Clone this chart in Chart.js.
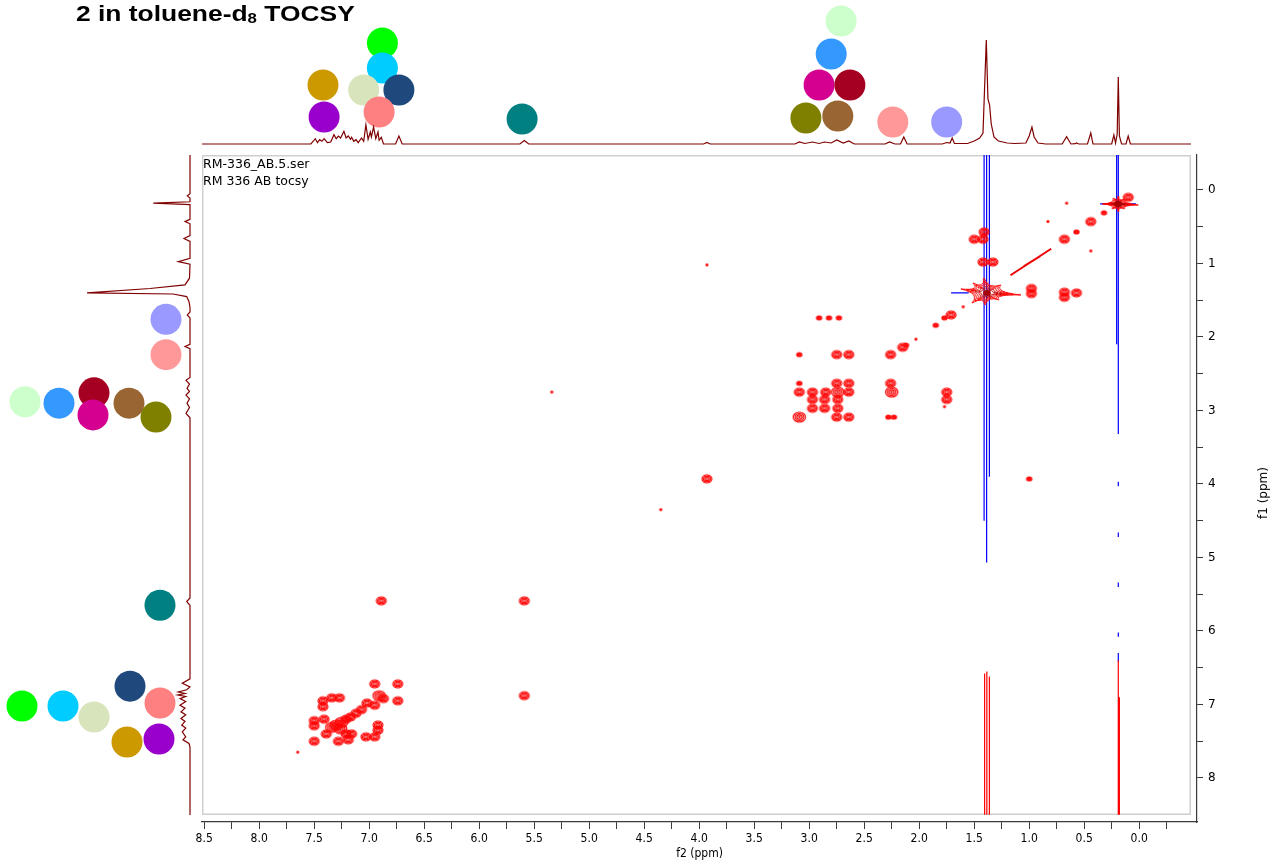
<!DOCTYPE html>
<html>
<head>
<meta charset="utf-8">
<title>2 in toluene-d8 TOCSY</title>
<script src="https://cdn.jsdelivr.net/npm/chart.js@4.4.1/dist/chart.umd.min.js"></script>
<style>
  html, body { margin:0; padding:0; background:#ffffff; }
  #stage { position:relative; width:1273px; height:865px; overflow:hidden; background:#fff; }
  #stage canvas { position:absolute; }
  #mainPlot { left:0; top:0; }
  #topTrace { left:202px; top:0; }
  #sideTrace { left:0; top:155px; }
  .label { position:absolute; white-space:nowrap; color:#000; }
  #heading { left:76px; top:3px; font:bold 22px/22px "Liberation Sans", Arial, sans-serif; transform:scaleX(1.2); transform-origin:0 50%; }
  #heading .sub { font-size:14px; position:relative; top:2px; }
  .info { left:203px; font:12.5px/17px "DejaVu Sans", Verdana, sans-serif; }
  #f1title { left:1263px; top:493px; font:12px/14px "DejaVu Sans", Verdana, sans-serif; transform:translate(-50%,-50%) rotate(-90deg); }
</style>
</head>
<body>
<div id="stage">
  <canvas id="mainPlot" width="1273" height="865"></canvas>
  <canvas id="topTrace" width="989" height="150"></canvas>
  <canvas id="sideTrace" width="200" height="660"></canvas>
  <div id="heading" class="label">2 in toluene-d<span class="sub">8</span> TOCSY</div>
  <div class="label info" style="top:155px">RM-336_AB.5.ser</div>
  <div class="label info" style="top:172px">RM 336 AB tocsy</div>
  <div id="f1title" class="label">f1 (ppm)</div>
</div>
<script>
// ---------- axis ticks (ppm) ----------
const f2Ticks = [8.5, 8.25, 8, 7.75, 7.5, 7.25, 7, 6.75, 6.5, 6.25, 6, 5.75, 5.5, 5.25, 5, 4.75, 4.5, 4.25,
                 4, 3.75, 3.5, 3.25, 3, 2.75, 2.5, 2.25, 2, 1.75, 1.5, 1.25, 1, 0.75, 0.5, 0.25, 0, -0.25];
const f1Ticks = [0, 0.5, 1, 1.5, 2, 2.5, 3, 3.5, 4, 4.5, 5, 5.5, 6, 6.5, 7, 7.5, 8];

// ---------- 1D trace along f2 (top) ----------
const topShift = [8.52, 7.53, 7.49, 7.47, 7.45, 7.43, 7.41, 7.38, 7.35, 7.32, 7.30, 7.28, 7.26, 7.23, 7.21, 7.19,
  7.17, 7.16, 7.14, 7.12, 7.10, 7.07, 7.05, 7.03, 7.01, 6.99, 6.98, 6.96, 6.94, 6.92, 6.91, 6.89, 6.87, 6.76, 6.73, 6.70,
  5.63, 5.59, 5.55, 3.96, 3.93, 3.90,
  3.13, 3.09, 3.04, 2.97, 2.91, 2.86, 2.80, 2.75, 2.69, 2.64, 2.59, 2.31, 2.27, 2.22, 2.17, 2.14, 2.11,
  1.79, 1.75, 1.72, 1.70, 1.68, 1.56, 1.50, 1.45, 1.42, 1.39, 1.375, 1.36, 1.345, 1.32, 1.28, 1.20, 1.13,
  1.03, 1.00, 0.975, 0.955, 0.92, 0.85, 0.70, 0.66, 0.62, 0.58, 0.57, 0.55, 0.47, 0.44, 0.42,
  0.25, 0.23, 0.215, 0.20, 0.19, 0.18, 0.16, 0.12, 0.10, 0.08, -0.471];
const topIntensity = [0, 0, 5.3, 1.3, 4.3, 2.7, 5.3, 1.3, 2, 9.3, 5.3, 8, 6, 12.7, 6, 8,
  4.7, 6.7, 2.7, 4.3, 1.3, 6, 2.7, 19.3, 4.7, 12, 7, 17, 5.3, 12, 3.7, 6.7, 0, 0, 8, 0,
  0, 3.5, 0, 0, 1.5, 0,
  0, 2, 0.5, 2, 0.5, 2, 1, 4, 1, 3, 0, 0, 2, 0, 0, 7, 0,
  0, 1.5, 1, 6, 0.5, 0.5, 3, 6, 11, 104, 45, 39, 20, 7, 3, 1, 0.5,
  1, 8, 17, 7, 1, 0, 0, 7.3, 0, 0.3, 1, 0, 0, 11, 0,
  0, 9, 1, 10, 67, 8, 0, 0, 8, 0, 0];

// ---------- 1D trace along f1 (left) ----------
const sideShift = [-0.476, 0.05, 0.08, 0.11, 0.16, 0.18, 0.20, 0.40, 0.43, 0.46, 0.62, 0.66, 0.70, 0.93, 0.975, 1.01,
  1.20, 1.29, 1.34, 1.40, 1.415, 1.45, 1.52, 1.60, 1.66, 1.70, 1.74, 2.10, 2.13, 2.16,
  2.55, 2.59, 2.64, 2.70, 2.74, 2.79, 2.84, 2.90, 2.96, 3.04, 3.10, 5.55, 5.60, 5.65,
  6.65, 6.71, 6.76, 6.80, 6.83, 6.85, 6.87, 6.89, 6.92, 6.96, 7.01, 7.05, 7.10, 7.14, 7.19, 7.23, 7.28, 7.32,
  7.37, 7.44, 7.48, 7.53, 7.58, 8.503];
const sideIntensity = [0, 0, 2.7, 0, 0, 36.7, 0, 0, 5, 0, 0, 6, 0, 0, 11.7, 0,
  0.5, 5, 40, 103, 17, 3.3, 1, 0, 0, 2.7, 0, 0, 5, 0,
  0, 4, 0.5, 3, 0.5, 4, 0.5, 3, 0.5, 4, 0, 0, 3.3, 0,
  0, 7.7, 0, 3.3, 11.7, 5, 12.3, 4.3, 10, 4.3, 10, 5, 9, 4.3, 9, 5, 8.3, 4.3,
  7.7, 4.3, 7, 1, 0, 0];

// ---------- assignment markers ----------
const markerPalette = {
  lime:'#00ff00', cyan:'#00ccff', beige:'#d8e4bc', navy:'#1f497d', salmon:'#ff8080', gold:'#cc9900',
  purple:'#9900cc', teal:'#008080', mint:'#ccffcc', sky:'#3399ff', magenta:'#d4008f', crimson:'#a50021',
  olive:'#808000', brown:'#996633', pink:'#ff9999', lavender:'#9999ff'
};
const topMarkNames = ['lime','cyan','beige','navy','salmon','gold','purple','teal','mint','sky','magenta','crimson','olive','brown','pink','lavender'];
const topMarkShift = [6.88, 6.88, 7.05, 6.73, 6.91, 7.42, 7.41, 5.61, 2.71, 2.80, 2.91, 2.63, 3.03, 2.74, 2.24, 1.75];
const topMarkStack = [101, 76, 54, 54, 32, 59, 27, 25, 123, 90, 59, 59, 26, 28, 22, 22];
const sideMarkNames = ['lavender','pink','mint','sky','crimson','magenta','brown','olive','teal','navy','salmon','lime','cyan','beige','gold','purple'];
const sideMarkShift = [1.76, 2.24, 2.88, 2.90, 2.76, 3.06, 2.90, 3.09, 5.65, 6.75, 6.98, 7.02, 7.02, 7.17, 7.51, 7.47];
const sideMarkStack = [24, 24, 165, 131, 96, 97, 61, 34, 30, 60, 30, 168, 127, 96, 63, 31];

// ---------- cross peaks: [f2, f1, contour level] ----------
const aliphaticPeaks = [
  [0.10,0.10,3],[0.32,0.31,2],[0.44,0.43,3],[0.83,0.43,1],[0.66,0.18,1],[0.57,0.57,2],[0.68,0.67,3],[0.44,0.83,1],
  [1.41,0.57,3],[1.50,0.67,3],[1.42,0.67,3],[1.42,0.98,3],[1.33,0.98,3],
  [0.98,1.34,3],[0.98,1.41,3],[0.68,1.39,3],[0.68,1.46,3],[0.57,1.40,3],
  [1.60,1.59,1],[1.71,1.70,3],[1.77,1.74,2],[1.85,1.84,2],[2.03,2.03,1],[2.15,2.14,3],[2.12,2.11,2]
];
const midPeaks = [
  [2.91,1.74,2],[2.82,1.74,2],[2.73,1.74,2],
  [3.09,2.24,2],[2.75,2.24,3],[2.64,2.24,3],[2.26,2.24,3],
  [3.09,2.63,2],[2.75,2.63,3],[2.64,2.63,3],[2.26,2.63,3],
  [3.09,2.75,3],[2.97,2.75,3],[2.85,2.75,3],[2.74,2.75,4],[2.64,2.75,3],[2.25,2.75,4],[1.75,2.75,3],
  [2.97,2.85,3],[2.86,2.85,3],[2.74,2.85,3],[1.75,2.85,3],
  [2.97,2.97,3],[2.86,2.97,3],[2.74,2.97,3],[1.77,2.95,1],
  [3.09,3.09,4],[2.75,3.09,3],[2.64,3.09,3],[2.28,3.09,2],[2.23,3.09,2],
  [3.93,1.02,1],[3.93,3.93,3],[1.00,3.93,2],[4.35,4.35,1],[5.34,2.75,1],
  [5.59,5.59,3],[6.89,5.59,3],[5.59,6.88,3]
];
const aromaticPeaks = [
  [6.95,6.72,3],[6.74,6.72,3],[7.34,6.91,3],[7.27,6.91,3],[6.91,6.88,4],[6.87,6.92,3],[6.74,6.95,3],
  [7.42,6.95,3],[7.42,7.03,3],[7.02,6.98,3],[6.95,7.01,3],
  [7.07,7.07,3],[7.12,7.12,3],[7.17,7.17,3],[7.21,7.20,3],[7.25,7.24,4],[7.30,7.28,4],
  [7.50,7.22,3],[7.50,7.29,3],[7.41,7.20,3],[7.34,7.31,4],[7.26,7.33,4],
  [6.92,7.28,3],[6.92,7.35,3],[7.39,7.40,3],[7.21,7.40,3],[7.16,7.40,3],
  [7.03,7.44,3],[6.95,7.44,3],[7.50,7.50,3],[7.28,7.50,3],[7.19,7.48,3],[7.65,7.65,1]
];
// strong diagonal singlets: [f2, f1]
const solventPeaks = [[1.385, 1.40], [0.19, 0.19]];
// diagonal ridges: [f2 start, f1 start, f2 end, f1 end]
const diagonalRidges = [[1.17,1.16,0.80,0.80],[1.05,1.04,0.90,0.90]];
// t1 noise ridges along f1: [f2, f1 start, f1 end]
const negativeRidges = [[1.41,-0.6,4.5],[1.387,-0.6,5.07],[1.362,-0.6,3.9],[0.19,-0.6,3.32],[0.205,-0.6,2.1],
  [0.19,3.97,4.03],[0.19,4.66,4.72],[0.19,5.34,5.40],[0.19,6.02,6.08],[0.19,6.30,6.42]];
const positiveRidges = [[1.405,6.58,8.5],[1.385,6.55,8.5],[1.362,6.62,8.5],[0.19,6.40,8.5],[0.18,6.9,8.5]];
// short negative ridges along f2: [f1, f2 start, f2 end]
const negativeRows = [[0.19,0.355,0.03],[1.40,1.71,1.55]];

// ---------- plot ranges ----------
const F2_LEFT = 8.52, F2_RIGHT_MAIN = -0.5255, F2_RIGHT_TOP = -0.471;
const F1_TOP = -0.476, F1_BOTTOM_MAIN = 8.599, F1_BOTTOM_SIDE = 8.503;

// ---------- contour glyphs ----------
function contourGlyph(level) {
  const radii = {1:[1.6,1.4], 2:[3.2,2.6], 3:[5,4], 4:[6.2,5]};
  const [rx, ry] = radii[level];
  const c = document.createElement('canvas');
  c.width = Math.ceil(rx * 2 + 4); c.height = Math.ceil(ry * 2 + 4);
  const g = c.getContext('2d');
  const cx = c.width / 2, cy = c.height / 2;
  if (level <= 2) {
    g.fillStyle = '#ff1010';
    g.beginPath(); g.ellipse(cx, cy, rx, ry, 0, 0, Math.PI * 2); g.fill();
    return c;
  }
  g.fillStyle = 'rgba(255,60,60,0.15)';
  g.beginPath(); g.ellipse(cx, cy, rx, ry, 0, 0, Math.PI * 2); g.fill();
  g.strokeStyle = '#ff0000'; g.lineWidth = 1.1;
  [1, 0.7, 0.42].forEach(k => { g.beginPath(); g.ellipse(cx, cy, rx * k, ry * k, 0, 0, Math.PI * 2); g.stroke(); });
  g.fillStyle = '#e00000';
  g.beginPath(); g.ellipse(cx, cy, rx * 0.18, ry * 0.18, 0, 0, Math.PI * 2); g.fill();
  return c;
}
function starGlyph(tips) {
  const mx = Math.max(...tips.map(t => Math.abs(t[0]))) + 2;
  const my = Math.max(...tips.map(t => Math.abs(t[1]))) + 2;
  const c = document.createElement('canvas');
  c.width = Math.round(mx * 2); c.height = Math.round(my * 2);
  const g = c.getContext('2d');
  const cx = c.width / 2, cy = c.height / 2;
  const n = tips.length;
  [1, 0.8, 0.62, 0.46, 0.32].forEach((s, li) => {
    const k = 0.3 + 0.5 * (1 - s);
    g.beginPath();
    g.moveTo(cx + tips[0][0] * s, cy + tips[0][1] * s);
    for (let i = 0; i < n; i++) {
      const a = tips[i], b = tips[(i + 1) % n];
      g.quadraticCurveTo(cx + (a[0] + b[0]) / 2 * s * k, cy + (a[1] + b[1]) / 2 * s * k,
                         cx + b[0] * s, cy + b[1] * s);
    }
    g.closePath();
    g.strokeStyle = li < 3 ? '#ff0000' : '#c80000';
    g.lineWidth = 1;
    g.stroke();
  });
  g.fillStyle = '#a80000';
  g.beginPath(); g.ellipse(cx, cy, 4, 3, 0, 0, Math.PI * 2); g.fill();
  return c;
}
const glyphs = {1: contourGlyph(1), 2: contourGlyph(2), 3: contourGlyph(3), 4: contourGlyph(4)};
const starGlyphs = [
  starGlyph([[-26,-4],[-14,-10],[-3,-15],[14,-8],[34,2],[12,7],[-2,12],[-15,10]]),
  starGlyph([[-16,0],[-5,-6],[0,-8],[6,-5],[20,1],[6,5],[0,8],[-6,5]])
];

// ---------- helpers ----------
const allPeaks = aliphaticPeaks.concat(midPeaks, aromaticPeaks);
function ridgePoints(list, vertical) {
  const pts = [];
  list.forEach(r => {
    if (vertical) { pts.push({x:r[0], y:r[1]}, {x:r[0], y:r[2]}, {x:r[0], y:null}); }
    else { pts.push({x:r[1], y:r[0]}, {x:r[2], y:r[0]}, {x:null, y:r[0]}); }
  });
  return pts;
}
const onStep = (v, step) => Math.abs(v / step - Math.round(v / step)) < 1e-6;
const tickFont = {family:'"DejaVu Sans Condensed", "DejaVu Sans", sans-serif', size:12};
const yTickFont = {family:'"DejaVu Sans", Verdana, sans-serif', size:12};
const quiet = {legend:{display:false}, tooltip:{enabled:false}};

const grayFrame = {
  id: 'grayFrame',
  beforeDatasetsDraw(chart) {
    const a = chart.chartArea, g = chart.ctx;
    g.save();
    g.strokeStyle = '#cfcfcf'; g.lineWidth = 1.5;
    g.strokeRect(a.left + 0.75, a.top + 0.75, (a.right - 6) - a.left - 1.5, (a.bottom - 7) - a.top - 1.5);
    g.restore();
  }
};

// ---------- main 2D plot ----------
new Chart(document.getElementById('mainPlot'), {
  type: 'scatter',
  data: {
    datasets: [
      { data: solventPeaks.map(p => ({x:p[0], y:p[1]})), pointStyle: starGlyphs, pointRadius: 3, order: 0 },
      { data: allPeaks.map(p => ({x:p[0], y:p[1]})), pointStyle: ctx => glyphs[allPeaks[ctx.dataIndex][2]], pointRadius: 3, order: 1 },
      { data: diagonalRidges.flatMap(r => [{x:r[0], y:r[1]}, {x:r[2], y:r[3]}, {x:null, y:null}]),
        showLine: true, borderColor: '#ee0000', borderWidth: 2, pointRadius: 0, order: 2 },
      { data: ridgePoints(positiveRidges, true), showLine: true, borderColor: '#ff0000', borderWidth: 1.2, pointRadius: 0, order: 3 },
      { data: ridgePoints(negativeRidges, true).concat(ridgePoints(negativeRows, false)),
        showLine: true, borderColor: '#0000ff', borderWidth: 1.2, pointRadius: 0, order: 4 }
    ]
  },
  options: {
    responsive: false, animation: false, events: [],
    layout: { autoPadding: false, padding: { left: 202, top: 155, right: 0, bottom: 0 } },
    plugins: quiet,
    scales: {
      x: {
        type: 'linear', position: 'bottom', min: F2_RIGHT_MAIN, max: F2_LEFT, reverse: true,
        afterBuildTicks: s => { s.ticks = f2Ticks.map(v => ({value: v})); },
        afterFit: s => { s.height = 43; },
        border: { display: true, color: '#3a3a3a', width: 1.2 },
        grid: { display: true, drawOnChartArea: false, drawTicks: true, tickLength: 7, color: '#3a3a3a', tickColor: '#3a3a3a', tickWidth: 1 },
        ticks: { autoSkip: false, maxRotation: 0, padding: 3, color: '#000', font: tickFont,
                 callback: v => onStep(v, 0.5) ? v.toFixed(1) : '' },
        title: { display: true, text: 'f2 (ppm)', color: '#000', font: tickFont, padding: { top: 0, bottom: 4 } }
      },
      y: {
        type: 'linear', position: 'right', min: F1_TOP, max: F1_BOTTOM_MAIN, reverse: true,
        afterBuildTicks: s => { s.ticks = f1Ticks.map(v => ({value: v})); },
        afterFit: s => { s.width = 76; },
        border: { display: true, color: '#3a3a3a', width: 1.2 },
        grid: { display: true, drawOnChartArea: false, drawTicks: true, tickLength: 6, color: '#3a3a3a', tickColor: '#3a3a3a', tickWidth: 1 },
        ticks: { autoSkip: false, padding: 5, color: '#000', font: yTickFont,
                 callback: v => onStep(v, 1) ? String(v) : '' }
      }
    }
  },
  plugins: [grayFrame]
});

// ---------- top 1D trace with markers ----------
new Chart(document.getElementById('topTrace'), {
  type: 'scatter',
  data: {
    datasets: [
      { data: topShift.map((p, i) => ({x:p, y:topIntensity[i]})), showLine: true, borderColor: '#7f0000',
        borderWidth: 1.2, pointRadius: 0, order: 0, clip: false },
      { data: topMarkShift.map((p, i) => ({x:p, y:topMarkStack[i]})), pointRadius: 15.5, pointBorderWidth: 0,
        pointBackgroundColor: topMarkNames.map(n => markerPalette[n]), order: 1, clip: false }
    ]
  },
  options: {
    responsive: false, animation: false, events: [], layout: { autoPadding: false, padding: 0 }, plugins: quiet,
    scales: {
      x: { type: 'linear', display: false, min: F2_RIGHT_TOP, max: F2_LEFT, reverse: true },
      y: { type: 'linear', display: false, min: -6, max: 144 }
    }
  }
});

// ---------- left 1D trace with markers ----------
new Chart(document.getElementById('sideTrace'), {
  type: 'scatter',
  data: {
    datasets: [
      { data: sideShift.map((p, i) => ({x:sideIntensity[i], y:p})), showLine: true, borderColor: '#7f0000',
        borderWidth: 1.2, pointRadius: 0, order: 0, clip: false },
      { data: sideMarkShift.map((p, i) => ({x:sideMarkStack[i], y:p})), pointRadius: 15.5, pointBorderWidth: 0,
        pointBackgroundColor: sideMarkNames.map(n => markerPalette[n]), order: 1, clip: false }
    ]
  },
  options: {
    responsive: false, animation: false, events: [], layout: { autoPadding: false, padding: 0 }, plugins: quiet,
    scales: {
      x: { type: 'linear', display: false, min: -10, max: 190, reverse: true },
      y: { type: 'linear', display: false, min: F1_TOP, max: F1_BOTTOM_SIDE, reverse: true }
    }
  }
});
</script>
</body>
</html>
